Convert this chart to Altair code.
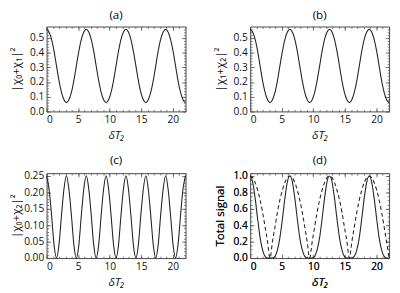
import altair as alt
import pandas as pd

# x sample positions (delta T2)
x_vals = [0.00, 0.39, 0.79, 1.18, 1.57, 1.96, 2.36, 2.75, 3.14, 3.53, 3.93, 4.32,
          4.71, 5.11, 5.50, 5.89, 6.28, 6.68, 7.07, 7.46, 7.85, 8.25, 8.64, 9.03,
          9.42, 9.82, 10.21, 10.60, 11.00, 11.39, 11.78, 12.17, 12.57, 12.96, 13.35,
          13.74, 14.14, 14.53, 14.92, 15.32, 15.71, 16.10, 16.49, 16.89, 17.28, 17.67,
          18.06, 18.46, 18.85, 19.24, 19.63, 20.03, 20.42, 20.81, 21.21, 21.60, 21.99]

a_vals = [0.56, 0.54, 0.49, 0.41, 0.31, 0.21, 0.13, 0.08, 0.06, 0.08, 0.13, 0.21, 0.31, 0.41, 0.49, 0.54,
          0.56, 0.54, 0.49, 0.41, 0.31, 0.21, 0.13, 0.08, 0.06, 0.08, 0.13, 0.21, 0.31, 0.41, 0.49, 0.54,
          0.56, 0.54, 0.49, 0.41, 0.31, 0.21, 0.13, 0.08, 0.06, 0.08, 0.13, 0.21, 0.31, 0.41, 0.49, 0.54,
          0.56, 0.54, 0.49, 0.41, 0.31, 0.21, 0.13, 0.08, 0.06]

b_vals = [0.56, 0.54, 0.49, 0.41, 0.31, 0.21, 0.13, 0.08, 0.06, 0.08, 0.13, 0.21, 0.31, 0.41, 0.49, 0.54,
          0.56, 0.54, 0.49, 0.41, 0.31, 0.21, 0.13, 0.08, 0.06, 0.08, 0.13, 0.21, 0.31, 0.41, 0.49, 0.54,
          0.56, 0.54, 0.49, 0.41, 0.31, 0.21, 0.13, 0.08, 0.06, 0.08, 0.13, 0.21, 0.31, 0.41, 0.49, 0.54,
          0.56, 0.54, 0.49, 0.41, 0.31, 0.21, 0.13, 0.08, 0.06]

c_vals = [0.25, 0.21, 0.13, 0.04, 0.00, 0.04, 0.13, 0.21,
          0.25, 0.21, 0.13, 0.04, 0.00, 0.04, 0.13, 0.21,
          0.25, 0.21, 0.13, 0.04, 0.00, 0.04, 0.13, 0.21,
          0.25, 0.21, 0.13, 0.04, 0.00, 0.04, 0.13, 0.21,
          0.25, 0.21, 0.13, 0.04, 0.00, 0.04, 0.13, 0.21,
          0.25, 0.21, 0.13, 0.04, 0.00, 0.04, 0.13, 0.21,
          0.25, 0.21, 0.13, 0.04, 0.00, 0.04, 0.13, 0.21,
          0.25]

d_solid = [1.00, 0.93, 0.73, 0.48, 0.25, 0.10, 0.02, 0.00, 0.00, 0.00, 0.02, 0.10, 0.25, 0.48, 0.73, 0.93,
           1.00, 0.93, 0.73, 0.48, 0.25, 0.10, 0.02, 0.00, 0.00, 0.00, 0.02, 0.10, 0.25, 0.48, 0.73, 0.93,
           1.00, 0.93, 0.73, 0.48, 0.25, 0.10, 0.02, 0.00, 0.00, 0.00, 0.02, 0.10, 0.25, 0.48, 0.73, 0.93,
           1.00, 0.93, 0.73, 0.48, 0.25, 0.10, 0.02, 0.00, 0.00]

d_dashed = [1.00, 0.98, 0.92, 0.83, 0.71, 0.56, 0.38, 0.20, 0.00, 0.20, 0.38, 0.56, 0.71, 0.83, 0.92, 0.98,
            1.00, 0.98, 0.92, 0.83, 0.71, 0.56, 0.38, 0.20, 0.00, 0.20, 0.38, 0.56, 0.71, 0.83, 0.92, 0.98,
            1.00, 0.98, 0.92, 0.83, 0.71, 0.56, 0.38, 0.20, 0.00, 0.20, 0.38, 0.56, 0.71, 0.83, 0.92, 0.98,
            1.00, 0.98, 0.92, 0.83, 0.71, 0.56, 0.38, 0.20, 0.00]

x_major = [0, 5, 10, 15, 20]
x_minor = list(range(0, 23))

W, H = 144, 88
FONT = "Open Sans"
LINE = "#222222"
TICK = "#555555"


def panel(title, ytitle, series, ydom, ymaj, ymin, yfmt):
    df = pd.DataFrame({"x": x_vals})
    for name, vals in series:
        df[name] = vals
    xs = alt.Scale(domain=[0, 22], nice=False, zero=False)
    ys = alt.Scale(domain=ydom, nice=False, zero=False)
    base = alt.Chart(df)
    layers = []
    first = series[0][0]
    for i, (name, vals) in enumerate(series):
        mk = dict(interpolate="monotone", color=LINE, strokeWidth=1.1)
        if i == 1:
            mk["strokeDash"] = [4, 3]
        xax = alt.Axis(orient="bottom", values=x_major, tickSize=0, domain=False, grid=False,
                       title="δT₂", labelPadding=4, titlePadding=5, titleFontStyle="italic",
                       titleFontWeight="normal")
        yax = alt.Axis(orient="left", values=ymaj, tickSize=0, domain=False, grid=False,
                       title=ytitle, format=yfmt, labelPadding=3, titleX=-25,
                       titleFontWeight="normal")
        layers.append(base.mark_line(**mk).encode(
            x=alt.X("x:Q", scale=xs, axis=xax),
            y=alt.Y(f"{name}:Q", scale=ys, axis=yax)))
    for ox, oy, vx, vy, size in [("top", "right", x_major, ymaj, 4),
                                 ("bottom", "left", x_major, ymaj, 4),
                                 ("top", "right", x_minor, ymin, 2),
                                 ("bottom", "left", x_minor, ymin, 2)]:
        layers.append(base.mark_line(opacity=0).encode(
            x=alt.X("x:Q", scale=xs, axis=alt.Axis(orient=ox, offset=-H, values=vx, tickSize=size,
                                                   labels=False, domain=False, grid=False, title=None,
                                                   tickColor=TICK, tickWidth=0.8)),
            y=alt.Y(f"{first}:Q", scale=ys, axis=alt.Axis(orient=oy, offset=-W, values=vy, tickSize=size,
                                                         labels=False, domain=False, grid=False, title=None,
                                                         tickColor=TICK, tickWidth=0.8))))
    return alt.layer(*layers).resolve_axis(x="independent", y="independent").properties(
        width=W, height=H,
        title=alt.TitleParams(title, fontSize=12, fontWeight="normal", font=FONT, offset=4))


pa = panel("(a)", "|χ₀+χ₁|²", [("a", a_vals)], [0, 0.578],
           [0.0, 0.1, 0.2, 0.3, 0.4, 0.5], [round(i * 0.02, 2) for i in range(0, 29)], ".1f")
pb = panel("(b)", "|χ₁+χ₂|²", [("b", b_vals)], [0, 0.578],
           [0.0, 0.1, 0.2, 0.3, 0.4, 0.5], [round(i * 0.02, 2) for i in range(0, 29)], ".1f")
pc = panel("(c)", "|χ₀+χ₂|²", [("c", c_vals)], [0, 0.258],
           [0.0, 0.05, 0.10, 0.15, 0.20, 0.25], [round(i * 0.01, 2) for i in range(0, 26)], ".2f")
pd_ = panel("(d)", "Total signal", [("s", d_solid), ("dd", d_dashed)], [0, 1.035],
            [0.0, 0.2, 0.4, 0.6, 0.8, 1.0], [round(i * 0.05, 2) for i in range(0, 21)], ".1f")

chart = alt.vconcat(
    alt.hconcat(pa, pb, spacing=25),
    alt.hconcat(pc, pd_, spacing=25),
    spacing=13,
).properties(padding={"top": -4, "left": 1, "right": 0, "bottom": 0}).configure_view(
    stroke="#444444", strokeWidth=1
).configure_axis(
    labelFont=FONT, titleFont=FONT, labelFontSize=10.5, titleFontSize=12,
    labelColor="#111", titleColor="#111"
)

chart.save("out.html", embed_options={"renderer": "svg", "actions": False})
